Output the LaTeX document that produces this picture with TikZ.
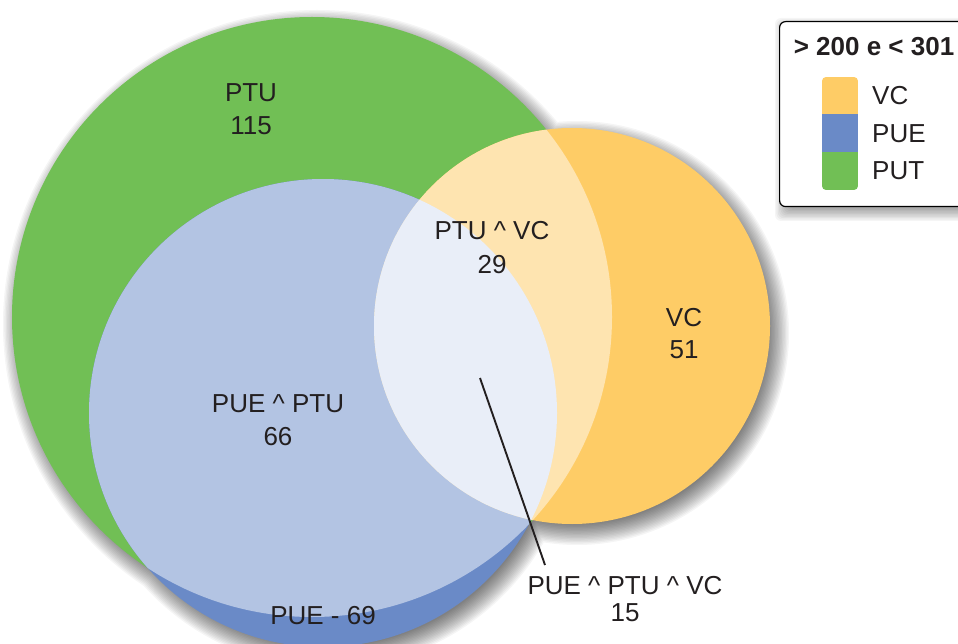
\documentclass[tikz,border=0pt]{standalone}
\usepackage{fontspec}
\setmainfont{Liberation Sans}

\definecolor{cGreen}{HTML}{71BF55}
\definecolor{cOrange}{HTML}{FECC66}
\definecolor{cBlue}{HTML}{6A8AC7}
\definecolor{cBlueLight}{HTML}{B3C4E3}
\definecolor{cYellowLight}{HTML}{FEE4B0}
\definecolor{cLightest}{HTML}{E9EEF8}
\definecolor{cText}{HTML}{231F20}

\tikzset{
  lbl/.style={text=cText, inner sep=0pt, anchor=center,
    font=\fontsize{26}{30}\selectfont},
  legtxt/.style={text=cText, inner sep=0pt, anchor=west,
    font=\fontsize{26}{30}\selectfont},
  legtitle/.style={text=cText, inner sep=0pt, anchor=center,
    font=\fontsize{26}{30}\selectfont\bfseries},
  shadowlayer/.style={fill=black, fill opacity=0.038},
  leader/.style={draw=cText, line width=1.9pt},
}

\begin{document}
\begin{tikzpicture}[x=1pt, y=-1pt]
  \useasboundingbox (0,0) rectangle (958,644);
  \clip (0,0) rectangle (958,644);
  \fill[white] (0,0) rectangle (958,644);

  % circle centres
  \coordinate (G) at (312,317);
  \coordinate (B) at (323,413);
  \coordinate (O) at (572,326);

  % soft drop shadow under the union of the three sets
  \foreach \k in {0,...,15}{
    \pgfmathsetmacro{\d}{14-1.4*\k}
    \fill[shadowlayer]
      ([shift={(5,7)}]G) circle[radius=300pt+\d pt]
      ([shift={(5,7)}]O) circle[radius=198pt+\d pt]
      ([shift={(5,7)}]B) circle[radius=234pt+\d pt];
  }

  % base fills
  \fill[cGreen] (G) circle[radius=300pt];
  \fill[cOrange] (O) circle[radius=198pt];
  \fill[cBlue] (B) circle[radius=234pt];

  % PUE ^ PTU
  \begin{scope}
    \clip (G) circle[radius=300pt];
    \fill[cBlueLight] (B) circle[radius=234pt];
  \end{scope}
  % PTU ^ VC
  \begin{scope}
    \clip (G) circle[radius=300pt];
    \fill[cYellowLight] (O) circle[radius=198pt];
  \end{scope}
  % PUE ^ PTU ^ VC
  \begin{scope}
    \clip (G) circle[radius=300pt];
    \clip (O) circle[radius=198pt];
    \fill[cLightest] (B) circle[radius=234pt];
  \end{scope}

  % region labels
  \node[lbl] (ptu)    at (251,93)  {PTU};
  \node[lbl] (ptuN)   at (251,126) {115};
  \node[lbl] (ptuvc)  at (492,231) {PTU \^{} VC};
  \node[lbl] (ptuvcN) at (492,265) {29};
  \node[lbl] (vc)     at (684,318) {VC};
  \node[lbl] (vcN)    at (684,350) {51};
  \node[lbl] (pueptu)  at (278,404) {PUE \^{} PTU};
  \node[lbl] (pueptuN) at (278,437) {66};
  \node[lbl] (pue)    at (323,616) {PUE - 69};
  \node[lbl] (all)    at (625,586) {PUE \^{} PTU \^{} VC};
  \node[lbl] (allN)   at (625,613) {15};

  % leader to the triple intersection
  \coordinate (leadA) at (480,378);
  \coordinate (leadB) at (545,565);
  \draw[leader] (leadA) -- (leadB);

  % legend shadow
  \foreach \k in {0,...,11}{
    \pgfmathsetmacro{\d}{9-1.4*\k}
    \fill[shadowlayer, rounded corners=6pt]
      (779+5-\d,21+6-\d) rectangle (985+5+\d,206+6+\d);
  }
  % legend
  \node[draw=black, line width=1.2pt, fill=white, rounded corners=6pt,
        minimum width=206pt, minimum height=185pt, anchor=north west,
        inner sep=0pt] (legend) at (779,21) {};
  \node[legtitle] (legT) at (874,47) {> 200 e < 301};
  \begin{scope}
    \clip[rounded corners=4pt] (822,77) rectangle (858,190);
    \fill[cOrange] (822,77) rectangle (858,114);
    \fill[cBlue] (822,114) rectangle (858,152);
    \fill[cGreen] (822,152) rectangle (858,190);
  \end{scope}
  \node[legtxt] (legVC)  at (872,96)  {VC};
  \node[legtxt] (legPUE) at (872,134) {PUE};
  \node[legtxt] (legPUT) at (872,171) {PUT};
\end{tikzpicture}
\end{document}
